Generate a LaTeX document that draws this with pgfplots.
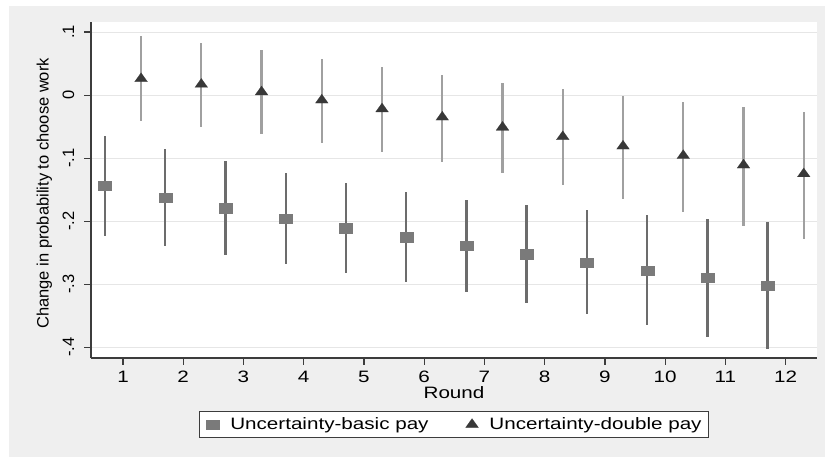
\documentclass[border=0pt]{standalone}
\usepackage{fontspec}
\setmainfont{Liberation Sans}
\newfontfamily\widefont{Liberation Sans}[FakeStretch=1.25]
\usepackage{pgfplots}
\usepackage{pgfplotstable}
\pgfplotsset{compat=1.18}

\definecolor{bggray}{HTML}{EFEFEF}
\definecolor{gridgray}{HTML}{E6E6E6}
\definecolor{axisgray}{HTML}{3C3C3C}
\definecolor{sqgray}{HTML}{7A7A7A}
\definecolor{sqbar}{HTML}{6C6C6C}
\definecolor{trigray}{HTML}{383838}
\definecolor{tribar}{HTML}{A0A0A0}

\newcommand\lblfont{\fontsize{16.5}{18}\selectfont}

% round (shifted left), estimate, CI upper and lower distances
\pgfplotstableread{
x     y       ep     em
0.7   -0.144  0.079  0.079
1.7   -0.162  0.076  0.077
2.7   -0.179  0.074  0.074
3.7   -0.196  0.073  0.072
4.7   -0.211  0.072  0.071
5.7   -0.225  0.072  0.072
6.7   -0.239  0.073  0.074
7.7   -0.252  0.077  0.078
8.7   -0.265  0.082  0.082
9.7   -0.278  0.088  0.087
10.7  -0.289  0.093  0.095
11.7  -0.302  0.101  0.100
}\basicpay

% round (shifted right)
\pgfplotstableread{
x     y       ep     em
1.3    0.026  0.068  0.067
2.3    0.017  0.066  0.068
3.3    0.005  0.066  0.067
4.3   -0.008  0.066  0.068
5.3   -0.022  0.066  0.068
6.3   -0.035  0.067  0.071
7.3   -0.051  0.071  0.073
8.3   -0.066  0.075  0.077
9.3   -0.081  0.079  0.083
10.3  -0.096  0.085  0.089
11.3  -0.111  0.092  0.096
12.3  -0.125  0.098  0.103
}\doublepay

\begin{document}
\begin{tikzpicture}

% page background (white strip top/left, Stata-grey elsewhere)
\fill[white] (0pt,0pt) rectangle (825pt,457pt);
\fill[bggray] (9pt,0pt) rectangle (825pt,451pt);

\begin{axis}[
  scale only axis,
  width=726pt, height=336pt,
  at={(91pt,99pt)}, anchor=south west,
  xmin=0.469, xmax=12.52,
  ymin=-0.417, ymax=0.116,
  axis x line*=bottom, axis y line*=left,
  axis line style={axisgray, line width=1.3pt},
  axis background/.style={fill=white},
  xtick={1,2,3,4,5,6,7,8,9,10,11,12},
  xticklabels={1,2,3,4,5,6,7,8,9,10,11,12},
  ytick={-0.4,-0.3,-0.2,-0.1,0,0.1},
  yticklabels={-.4,-.3,-.2,-.1,0,.1},
  ymajorgrids,
  grid style={gridgray, line width=1pt},
  tick align=outside,
  major tick length=7pt,
  tick style={axisgray, line width=1.2pt},
  xticklabel style={font=\widefont\lblfont, anchor=base, inner sep=0pt, yshift=-18pt},
  yticklabel style={font=\lblfont, rotate=90, anchor=base, inner sep=0pt, yshift=10pt},
  xlabel={Round},
  ylabel={Change in probability to choose work},
  every axis x label/.style={at={(axis description cs:0.5,-0.12)}, anchor=base, font=\widefont\lblfont},
  every axis y label/.style={at={(axis description cs:-0.0585,0.49)}, rotate=90, anchor=base, font=\lblfont},
  legend columns=2,
  legend style={
    at={(0.5,-0.198)}, anchor=center,
    draw=axisgray, line width=1pt, fill=white,
    font=\widefont\lblfont,
    inner xsep=7pt, inner ysep=6.5pt,
    nodes={inner sep=0pt},
    /tikz/every odd column/.append style={column sep=11pt},
    /tikz/every even column/.append style={column sep=37pt},
  },
  legend cell align=left,
]

\addplot[
  only marks,
  mark=square*, mark size=4.6pt,
  mark options={xscale=1.4, fill=sqgray, draw=sqgray, line width=0.1pt},
  error bars/.cd, y dir=both, y explicit, error mark=none,
  error bar style={sqbar, line width=2.3pt},
] table[x=x, y=y, y error plus=ep, y error minus=em] {\basicpay};
\addlegendentry{Uncertainty-basic pay}

\addplot[
  only marks,
  mark=triangle*, mark size=6pt,
  mark options={xscale=1.24, fill=trigray, draw=trigray, line width=0.1pt},
  error bars/.cd, y dir=both, y explicit, error mark=none,
  error bar style={tribar, line width=2.3pt},
] table[x=x, y=y, y error plus=ep, y error minus=em] {\doublepay};
\addlegendentry{Uncertainty-double pay}

\end{axis}
\end{tikzpicture}
\end{document}
